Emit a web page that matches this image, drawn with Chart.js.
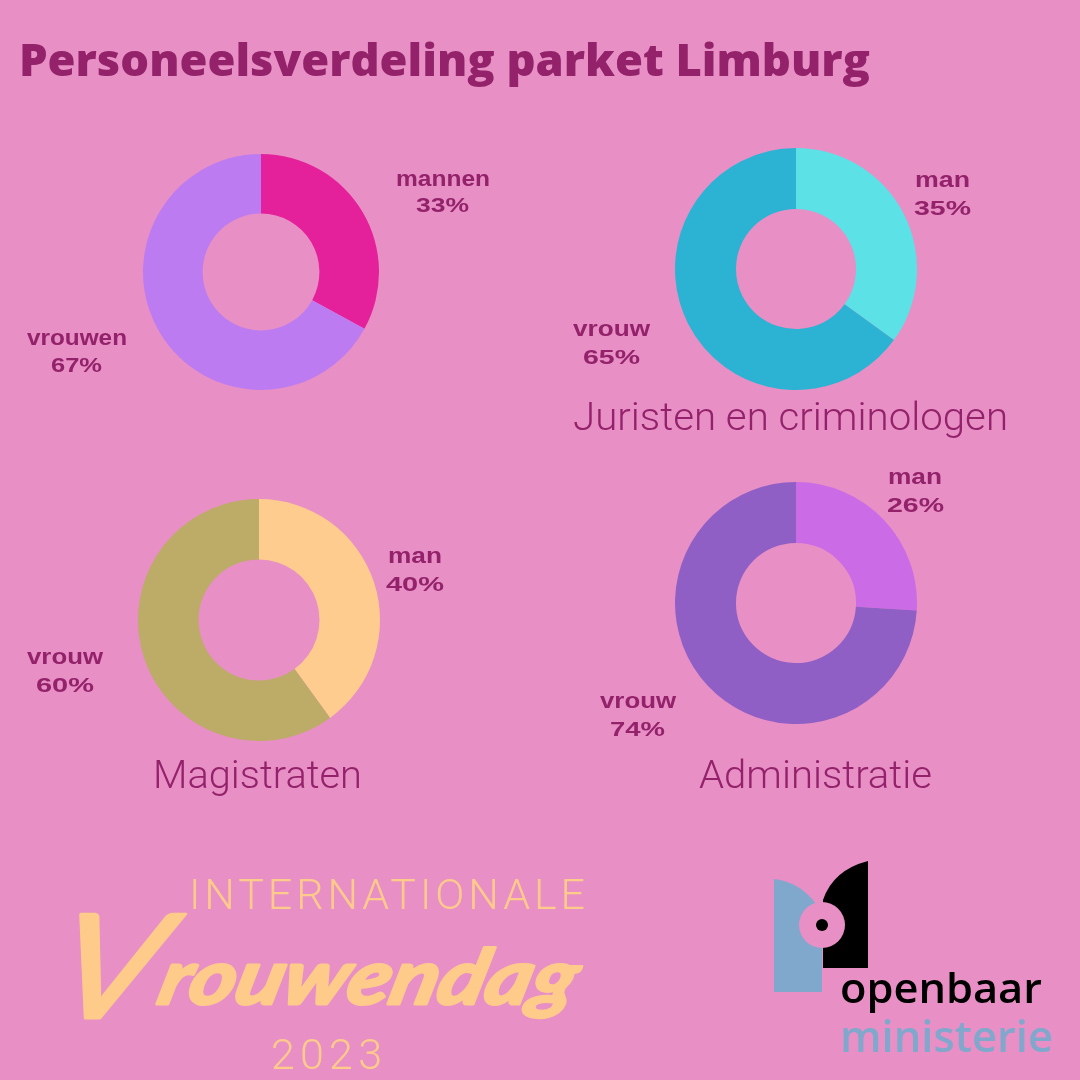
<!DOCTYPE html>
<html lang="nl">
<head>
<meta charset="utf-8">
<title>Personeelsverdeling parket Limburg</title>
<script src="https://cdn.jsdelivr.net/npm/chart.js@4"></script>
<style>
  html, body { margin: 0; padding: 0; }
  body { width: 1080px; height: 1080px; background: #e88fc5; position: relative; overflow: hidden; }
  canvas { position: absolute; }
  svg { position: absolute; left: 0; top: 0; }
</style>
</head>
<body>
<svg id="overlay" width="1080" height="1080" xmlns="http://www.w3.org/2000/svg">
  <!-- logo -->
  <path d="M774 879 Q800 882 816 904 L822 904 L822 992 L774 992 Z" fill="#7fa8cc"/>
  <path d="M868 861 Q833 870 823 900 L823 968 L868 968 Z" fill="#000"/>
  <circle cx="822" cy="925" r="23" fill="#e88fc5"/>
  <circle cx="822" cy="925" r="6" fill="#000"/>
</svg>

<script>
'use strict';

/*=====Données=================*/
const title = 'Personeelsverdeling parket Limburg';
const subtitles = ['', 'Juristen en criminologen', 'Magistraten', 'Administratie'];

const categories1 = ['mannen', 'vrouwen'];
const categories2 = ['man', 'vrouw'];
const categories3 = ['man', 'vrouw'];
const categories4 = ['man', 'vrouw'];

const values1 = [33, 67];
const values2 = [35, 65];
const values3 = [40, 60];
const values4 = [26, 74];

const colors1 = ['#e4209a', '#bd7bf2'];
const colors2 = ['#5ce1e6', '#2cb3d3'];
const colors3 = ['#fdcc8e', '#bdab68'];
const colors4 = ['#cb6ce6', '#8f5fc5'];

/*=====Mise en page=================*/
const TEXT = '#93226a';
const PEACH = '#fecb8a';
const holes = [49.5, 49.6, 50, 49.6];
const centers = [[261, 272, 118], [796, 269, 121], [259, 620, 121], [796, 603, 121]];

// [x gauche, largeur, ligne de base] nom puis pourcentage, pour chaque part
const labelBoxes = [
  [[396, 94, 186, 416, 53, 212], [27, 100, 345, 51, 51, 372]],
  [[915, 55, 187, 914, 57, 215], [573, 77, 336, 583, 57, 364]],
  [[388, 54, 563, 386, 58, 591], [27, 76, 664, 36, 58, 692]],
  [[888, 54, 484, 887, 57, 512], [600, 76, 708, 610, 55, 736]]
];
const subtitleBoxes = [null, [573, 435, 430], [153, 209, 788], [699, 233, 788]];

const overlay = document.getElementById('overlay');

function addText(str, x, y, length, size, font, weight, fill, extra) {
  const el = document.createElementNS('http://www.w3.org/2000/svg', 'text');
  el.textContent = str;
  el.setAttribute('x', x);
  el.setAttribute('y', y);
  el.setAttribute('font-family', font);
  el.setAttribute('font-size', size);
  el.setAttribute('font-weight', weight);
  el.setAttribute('fill', fill);
  if (length) {
    el.setAttribute('textLength', length);
    el.setAttribute('lengthAdjust', 'spacingAndGlyphs');
  }
  if (extra) {
    Object.keys(extra).forEach(k => el.setAttribute(k, extra[k]));
  }
  overlay.appendChild(el);
  return el;
}

/*=====Dessiner un donut==========*/
function drawDonut(index, labels, values, colors) {
  const [cx, cy, r] = centers[index];
  const canvas = document.createElement('canvas');
  canvas.style.left = (cx - r) + 'px';
  canvas.style.top = (cy - r) + 'px';
  canvas.width = r * 2;
  canvas.height = r * 2;
  document.body.insertBefore(canvas, overlay);

  new Chart(canvas.getContext('2d'), {
    type: 'doughnut',
    data: {
      labels: labels,
      datasets: [{
        data: values,
        backgroundColor: colors,
        borderWidth: 0
      }]
    },
    options: {
      responsive: false,
      animation: false,
      cutout: holes[index] + '%',
      layout: { padding: 0 },
      plugins: {
        legend: { display: false },
        tooltip: { enabled: false }
      }
    }
  });

  labels.forEach((label, i) => {
    const b = labelBoxes[index][i];
    addText(label, b[0], b[2], b[1], 22, '"Liberation Sans"', 700, TEXT);
    addText(values[i] + '%', b[3], b[5], b[4], 21, '"Liberation Sans"', 700, TEXT);
  });

  if (subtitleBoxes[index]) {
    const s = subtitleBoxes[index];
    addText(subtitles[index], s[0], s[2], s[1], 39, 'Roboto', 300, TEXT);
  }
}

drawDonut(0, categories1, values1, colors1);
drawDonut(1, categories2, values2, colors2);
drawDonut(2, categories3, values3, colors3);
drawDonut(3, categories4, values4, colors4);

/*=====Titre et textes==========*/
addText(title, 19, 76, 851, 45, '"Open Sans"', 800, TEXT);

addText('INTERNATIONALE', 189, 909, 0, 43, 'Roboto', 300, PEACH, { textLength: 396, lengthAdjust: 'spacing' });
addText('2023', 271, 1069, 0, 43, 'Roboto', 300, PEACH, { textLength: 111, lengthAdjust: 'spacing' });

// pas de police manuscrite installée : Lato italique penché, grand V
const script = addText('V', 0, 0, 522, 145, 'Lato', 400, PEACH, {
  'font-style': 'italic',
  'stroke': PEACH,
  'stroke-width': 3,
  'stroke-linejoin': 'round',
  'transform': 'translate(46 1018) skewX(-14)'
});
const rest = document.createElementNS('http://www.w3.org/2000/svg', 'tspan');
rest.textContent = 'rouwendag';
rest.setAttribute('font-size', 76);
rest.setAttribute('font-weight', 700);
rest.setAttribute('dy', -14);
script.appendChild(rest);

addText('openbaar', 840, 1003, 202, 41, '"Open Sans"', 600, '#000');
addText('ministerie', 840, 1052, 213, 44, '"Open Sans"', 600, '#7fa8cc');
</script>
</body>
</html>
